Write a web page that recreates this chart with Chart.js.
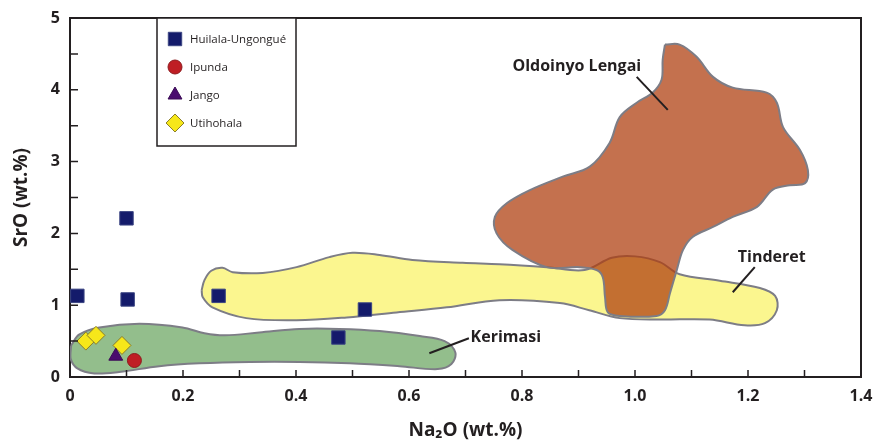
<!DOCTYPE html>
<html>
<head>
<meta charset="utf-8">
<script src="https://cdn.jsdelivr.net/npm/chart.js@4/dist/chart.umd.min.js"></script>
<style>
  html, body { margin: 0; padding: 0; background: #fff; }
</style>
</head>
<body>
<canvas id="srChart" width="875" height="440"></canvas>
<script>
// --- dados: Na2O (x) vs SrO (y), wt.% ---
const huilala = [[0.013, 1.13], [0.100, 2.21], [0.102, 1.08], [0.263, 1.13], [0.475, 0.55], [0.522, 0.94]];
const ipunda = [[0.114, 0.23]];
const jango = [[0.081, 0.29]];
const utihohala = [[0.028, 0.50], [0.046, 0.58], [0.092, 0.44]];

// campos de referência (contornos)
const kerimasiField = [
  [0.002, 0.44], [0.016, 0.59], [0.052, 0.69], [0.123, 0.74], [0.199, 0.69], [0.238, 0.61],
  [0.274, 0.58], [0.335, 0.62], [0.406, 0.67], [0.477, 0.67], [0.548, 0.64], [0.619, 0.57],
  [0.663, 0.50], [0.682, 0.34], [0.675, 0.18], [0.651, 0.11], [0.583, 0.15], [0.495, 0.19],
  [0.406, 0.21], [0.318, 0.21], [0.229, 0.19], [0.158, 0.15], [0.087, 0.07], [0.043, 0.05],
  [0.013, 0.12], [0.001, 0.26], [0.002, 0.44]
];
const tinderetField = [
  [0.233, 1.21], [0.238, 1.35], [0.250, 1.48], [0.270, 1.52], [0.288, 1.46], [0.341, 1.45],
  [0.401, 1.53], [0.459, 1.67], [0.500, 1.73], [0.548, 1.70], [0.606, 1.63], [0.695, 1.59],
  [0.760, 1.57], [0.844, 1.53], [0.911, 1.49], [0.959, 1.66], [1.000, 1.68], [1.044, 1.60],
  [1.079, 1.43], [1.150, 1.34], [1.221, 1.24], [1.248, 1.13], [1.251, 0.93], [1.230, 0.75],
  [1.194, 0.72], [1.132, 0.80], [1.044, 0.80], [0.973, 0.82], [0.919, 0.93], [0.867, 1.03],
  [0.760, 1.07], [0.667, 0.97], [0.578, 0.90], [0.490, 0.83], [0.401, 0.79], [0.312, 0.82],
  [0.252, 0.97], [0.235, 1.11], [0.233, 1.21]
];
const lengaiField = [
  [1.053, 4.63], [1.079, 4.63], [1.109, 4.46], [1.138, 4.18], [1.173, 4.03], [1.233, 3.96],
  [1.251, 3.82], [1.262, 3.48], [1.292, 3.16], [1.306, 2.88], [1.301, 2.70], [1.274, 2.67],
  [1.244, 2.61], [1.216, 2.37], [1.173, 2.23], [1.138, 2.09], [1.102, 1.95], [1.085, 1.77],
  [1.074, 1.49], [1.062, 1.17], [1.053, 0.93], [1.038, 0.85], [0.973, 0.85], [0.952, 0.90],
  [0.947, 1.11], [0.943, 1.39], [0.932, 1.49], [0.902, 1.53], [0.844, 1.53], [0.783, 1.77],
  [0.755, 2.00], [0.752, 2.23], [0.773, 2.42], [0.813, 2.60], [0.872, 2.79], [0.920, 2.93],
  [0.955, 3.26], [0.973, 3.62], [1.003, 3.82], [1.031, 3.96], [1.047, 4.14], [1.049, 4.42],
  [1.053, 4.63]
];

// rótulos dos eixos
const xLabels = ['0', '0.2', '0.4', '0.6', '0.8', '1.0', '1.2', '1.4'];
const yLabels = ['0', '1', '2', '3', '4', '5'];

// nomes dos campos e suas linhas indicadoras
const fieldNotes = [
  { text: 'Oldoinyo Lengai', at: [0.783, 4.32], from: [1.003, 4.18], to: [1.058, 3.72] },
  { text: 'Tinderet', at: [1.182, 1.67], from: [1.212, 1.53], to: [1.173, 1.18] },
  { text: 'Kerimasi', at: [0.709, 0.55], from: [0.706, 0.54], to: [0.636, 0.33] }
];

const INK = '#231f20';
const FONT = "'Open Sans', 'DejaVu Sans', sans-serif";
const toXY = arr => arr.map(p => ({ x: p[0], y: p[1] }));

function fieldDataset(points, fill, order) {
  return {
    type: 'line',
    data: toXY(points),
    backgroundColor: fill,
    borderColor: '#7d7d86',
    borderWidth: 2,
    fill: 'shape',
    tension: 0.35,
    pointRadius: 0,
    order: order
  };
}

// plugin: moldura superior/direita e marcas dos eixos voltadas para dentro
const framePlugin = {
  id: 'frame',
  afterDraw(chart) {
    const { ctx, chartArea: a, scales: { x, y } } = chart;
    ctx.save();
    ctx.strokeStyle = INK;
    ctx.lineWidth = 2;
    ctx.beginPath();
    ctx.moveTo(a.left - 1, a.top);
    ctx.lineTo(a.right, a.top);
    ctx.lineTo(a.right, a.bottom + 1);
    ctx.stroke();

    ctx.lineWidth = 1.5;
    ctx.beginPath();
    x.ticks.forEach(t => {
      const px = x.getPixelForValue(t.value);
      ctx.moveTo(px, a.bottom);
      ctx.lineTo(px, a.bottom - 7);
    });
    y.ticks.forEach(t => {
      const py = y.getPixelForValue(t.value);
      ctx.moveTo(a.left, py);
      ctx.lineTo(a.left + 8, py);
    });
    ctx.stroke();
    ctx.restore();
  }
};

// plugin: nomes dos campos
const notesPlugin = {
  id: 'notes',
  afterDatasetsDraw(chart) {
    const { ctx, scales: { x, y } } = chart;
    ctx.save();
    ctx.strokeStyle = INK;
    ctx.fillStyle = INK;
    ctx.lineWidth = 2;
    ctx.font = 'bold 16px ' + FONT;
    ctx.textBaseline = 'middle';
    ctx.textAlign = 'left';
    fieldNotes.forEach(n => {
      ctx.beginPath();
      ctx.moveTo(x.getPixelForValue(n.from[0]), y.getPixelForValue(n.from[1]));
      ctx.lineTo(x.getPixelForValue(n.to[0]), y.getPixelForValue(n.to[1]));
      ctx.stroke();
      ctx.fillText(n.text, x.getPixelForValue(n.at[0]), y.getPixelForValue(n.at[1]));
    });
    ctx.restore();
  }
};

// plugin: legenda dentro da área do gráfico
const legendBoxPlugin = {
  id: 'legendBox',
  afterDraw(chart) {
    const { ctx, chartArea: a } = chart;
    const left = a.left + 87, top = a.top, w = 139, h = 128;
    ctx.save();
    ctx.fillStyle = '#fff';
    ctx.fillRect(left, top, w, h);
    ctx.strokeStyle = INK;
    ctx.lineWidth = 1.5;
    ctx.strokeRect(left, top, w, h);
    const rows = chart.data.datasets.filter(d => d.legendRow !== undefined);
    ctx.font = '11.5px ' + FONT;
    ctx.textBaseline = 'middle';
    rows.forEach(d => {
      const cy = top + 21 + d.legendRow * 28;
      const cx = left + 18;
      ctx.fillStyle = d.backgroundColor;
      ctx.strokeStyle = d.borderColor;
      ctx.lineWidth = d.borderWidth;
      Chart.helpers.drawPoint(ctx, {
        pointStyle: d.pointStyle, radius: d.pointRadius, rotation: 0, borderWidth: d.borderWidth
      }, cx, cy);
      ctx.fillStyle = INK;
      ctx.fillText(d.label, left + 33, cy + 1);
    });
    ctx.restore();
  }
};

const ctx = document.getElementById('srChart').getContext('2d');
new Chart(ctx, {
  type: 'scatter',
  data: {
    datasets: [
      { label: 'Huilala-Ungongué', legendRow: 0, data: toXY(huilala), pointStyle: 'rect', pointRadius: 9.5,
        backgroundColor: '#141b6b', borderColor: '#3c4683', borderWidth: 1, order: 0 },
      { label: 'Ipunda', legendRow: 1, data: toXY(ipunda), pointStyle: 'circle', pointRadius: 7,
        backgroundColor: '#bf1e24', borderColor: '#8e1b1e', borderWidth: 1, order: 0 },
      { label: 'Jango', legendRow: 2, data: toXY(jango), pointStyle: 'triangle', pointRadius: 8,
        backgroundColor: '#4a0c6e', borderColor: '#3a0a55', borderWidth: 1, order: 0 },
      { label: 'Utihohala', legendRow: 3, data: toXY(utihohala), pointStyle: 'rectRot', pointRadius: 9,
        backgroundColor: '#f6e71a', borderColor: '#8a7d2a', borderWidth: 1, order: 0 },
      fieldDataset(lengaiField, 'rgba(176, 63, 16, 0.74)', 1),
      fieldDataset(tinderetField, '#fbf68f', 2),
      fieldDataset(kerimasiField, '#93be8c', 3)
    ]
  },
  options: {
    responsive: false,
    animation: false,
    devicePixelRatio: 1,
    layout: { padding: { top: 18, right: 14, bottom: 0, left: 0 } },
    plugins: { legend: { display: false }, tooltip: { enabled: false } },
    scales: {
      x: {
        type: 'linear', min: 0, max: 1.4,
        afterFit(s) { s.height = 63; s.paddingLeft = 0; s.paddingRight = 0; },
        border: { display: true, color: INK, width: 2 },
        grid: { drawOnChartArea: false, drawTicks: false },
        ticks: {
          stepSize: 0.1, padding: 10, color: INK, maxRotation: 0, autoSkip: false,
          font: { family: FONT, size: 16, weight: 'bold' },
          callback: v => {
            const i = Math.round(v * 5);
            return Math.abs(v * 5 - i) < 1e-6 ? xLabels[i] : '';
          }
        },
        title: {
          display: true, text: 'Na₂O (wt.%)', color: INK,
          font: { family: FONT, size: 19, weight: 'bold' }, padding: { top: 0, bottom: -2 }
        }
      },
      y: {
        type: 'linear', min: 0, max: 5,
        afterFit(s) { s.width = 70; s.paddingTop = 0; s.paddingBottom = 0; },
        border: { display: true, color: INK, width: 2 },
        grid: { drawOnChartArea: false, drawTicks: false },
        ticks: {
          stepSize: 0.5, padding: 10, color: INK, autoSkip: false,
          font: { family: FONT, size: 16, weight: 'bold' },
          callback: v => {
            const i = Math.round(v);
            return Math.abs(v - i) < 1e-6 ? yLabels[i] : '';
          }
        },
        title: {
          display: true, text: 'SrO (wt.%)', color: INK,
          font: { family: FONT, size: 19, weight: 'bold' }, padding: { top: 10, bottom: 0 }
        }
      }
    }
  },
  plugins: [framePlugin, notesPlugin, legendBoxPlugin]
});
</script>
</body>
</html>
